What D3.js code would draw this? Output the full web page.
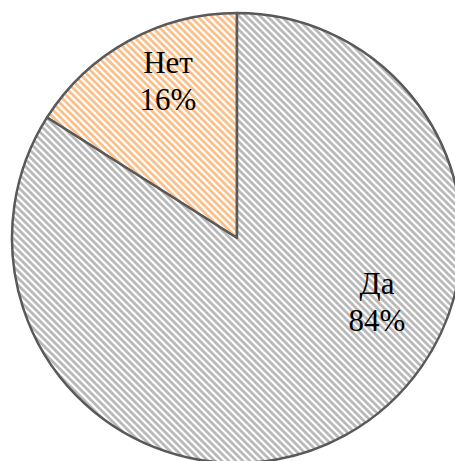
<!DOCTYPE html>
<html>
<head>
<meta charset="utf-8">
<script src="https://cdn.jsdelivr.net/npm/d3@7"></script>
<style>
  body { margin: 0; background: #fff; }
  svg { display: block; }
</style>
</head>
<body>
<div id="pie-chart"></div>
<script>
const WIDTH = 455;
const HEIGHT = 461;
const CENTER = { X: 237, Y: 238 };
const RADIUS = 225;

// data
const categories = ["Нет", "Да"];
const shares = [16, 84];
const labels = ["Нет\n16%", "Да\n84%"];

// slice styling
const stripeColors = ["#fbbf8a", "#b9b9b9"];
const HATCH = 7;
// label placement: offset of first baseline from the pie centre
const labelPlace = [[-69, -165], [140, 56]];
const LINE_STEP = 37;

const svg = d3
  .select("#pie-chart")
  .append("svg")
  .attr("width", WIDTH)
  .attr("height", HEIGHT);

// hatch patterns, one per slice
const defs = svg.append("defs");
stripeColors.forEach((c, i) => {
  const p = defs
    .append("pattern")
    .attr("id", "hatch" + i)
    .attr("patternUnits", "userSpaceOnUse")
    .attr("width", HATCH)
    .attr("height", HATCH);
  p.append("rect").attr("width", HATCH).attr("height", HATCH).attr("fill", "#fff");
  p.append("path")
    .attr(
      "d",
      `M-1,-1 L${HATCH + 1},${HATCH + 1} M-1,${HATCH - 1} L1,${HATCH + 1} M${HATCH - 1},-1 L${HATCH + 1},1`
    )
    .attr("stroke", c)
    .attr("stroke-width", 2.8);
});

const g = svg
  .append("g")
  .attr("transform", `translate(${CENTER.X}, ${CENTER.Y})`);

// start the small slice counter-clockwise of 12 o'clock
const startAngle = -(shares[0] / d3.sum(shares)) * 2 * Math.PI;
const pie = d3
  .pie()
  .sort(null)
  .startAngle(startAngle)
  .endAngle(startAngle + 2 * Math.PI)
  .value((d) => d);

const arc = d3.arc().innerRadius(0).outerRadius(RADIUS);

const slices = pie(shares);

g.selectAll(".slice")
  .data(slices)
  .enter()
  .append("path")
  .attr("class", "slice")
  .attr("d", arc)
  .attr("fill", (d, i) => `url(#hatch${i})`)
  .attr("stroke", "#595959")
  .attr("stroke-width", 2.5)
  .attr("stroke-linejoin", "round");

// labels
const lbl = g
  .selectAll(".label")
  .data(slices)
  .enter()
  .append("text")
  .attr("class", "label")
  .attr("transform", (d, i) => `translate(${labelPlace[i][0]}, ${labelPlace[i][1]})`)
  .attr("text-anchor", "middle")
  .attr("font-family", "'Liberation Serif', 'DejaVu Serif', serif")
  .attr("font-size", "31px")
  .attr("fill", "#000");

lbl
  .selectAll("tspan")
  .data((d, i) => labels[i].split("\n"))
  .enter()
  .append("tspan")
  .attr("x", 0)
  .attr("dy", (d, j) => (j === 0 ? 0 : LINE_STEP))
  .text((d) => d);
</script>
</body>
</html>
